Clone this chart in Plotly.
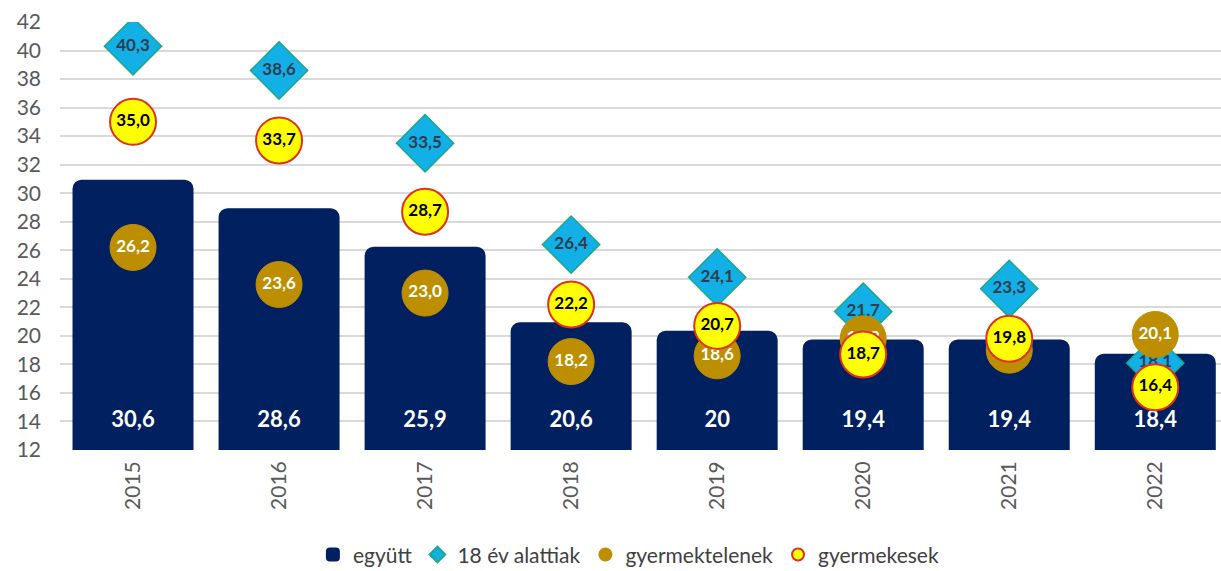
import plotly.graph_objects as go

years = ["2015", "2016", "2017", "2018", "2019", "2020", "2021", "2022"]
egyutt = [30.6, 28.6, 25.9, 20.6, 20.0, 19.4, 19.4, 18.4]
egyutt_labels = ["30,6", "28,6", "25,9", "20,6", "20", "19,4", "19,4", "18,4"]
ev18 = [40.3, 38.6, 33.5, 26.4, 24.1, 21.7, 23.3, 18.1]
gyermektelenek = [26.2, 23.6, 23.0, 18.2, 18.6, 19.8, 19.0, 20.1]
gyermekesek = [35.0, 33.7, 28.7, 22.2, 20.7, 18.7, 19.8, 16.4]

LABEL_Y = 14.0  # vertical position of bar value labels (style constant)


def fmt(v):
    return f"{v:.1f}".replace(".", ",")


FONT = "Lato, 'Open Sans', sans-serif"

fig = go.Figure()
fig.add_trace(go.Bar(
    x=years, y=egyutt, name="együtt",
    marker=dict(color="#002060", cornerradius=4,
                line=dict(color="#002060", width=10)),
    width=0.76, hoverinfo="x+y",
))
fig.add_trace(go.Scatter(
    x=years, y=[LABEL_Y] * len(years), mode="text", showlegend=False,
    text=egyutt_labels, textposition="middle center", hoverinfo="skip",
    textfont=dict(color="white", size=22, family=FONT, weight="bold"),
))
fig.add_trace(go.Scatter(
    x=years, y=ev18, name="18 év alattiak", mode="markers+text",
    marker=dict(symbol="diamond", size=44, color="#12B0E6",
                line=dict(color="#1AA88A", width=1.5)),
    text=[fmt(v) for v in ev18], textposition="middle center",
    textfont=dict(color="#2E3E50", size=17, family=FONT, weight="bold"),
))
fig.add_trace(go.Scatter(
    x=years, y=gyermektelenek, name="gyermektelenek", mode="markers+text",
    marker=dict(symbol="circle", size=46, color="#BD8F00",
                line=dict(color="#BD8F00", width=1)),
    text=[fmt(v) for v in gyermektelenek], textposition="middle center",
    textfont=dict(color="white", size=17, family=FONT, weight="bold"),
))
fig.add_trace(go.Scatter(
    x=years, y=gyermekesek, name="gyermekesek", mode="markers+text",
    marker=dict(symbol="circle", size=46, color="#FFFF00",
                line=dict(color="#E0301E", width=2)),
    text=[fmt(v) for v in gyermekesek], textposition="middle center",
    textfont=dict(color="black", size=17, family=FONT, weight="bold"),
))

fig.update_layout(
    width=1221, height=571,
    margin=dict(l=60, r=0, t=22, b=121, autoexpand=False),
    plot_bgcolor="white", paper_bgcolor="white",
    font=dict(family=FONT, color="#595959", size=20),
    showlegend=True,
    legend=dict(orientation="h", x=0.49, xanchor="center", y=-0.245, yanchor="middle",
                font=dict(size=21, color="#404040"), itemsizing="constant",
                traceorder="normal"),
    xaxis=dict(type="category", range=[-0.5, 7.45], tickangle=-90,
               showgrid=False, showline=False, ticks="", ticklabelstandoff=6,
               tickfont=dict(size=21, color="#595959")),
    yaxis=dict(range=[12, 42], dtick=2, tick0=12, showgrid=True,
               gridcolor="#D9D9D9", gridwidth=2, zeroline=False, showline=False,
               ticks="", ticklabelstandoff=18,
               tickfont=dict(size=21, color="#595959")),
)
fig.write_html("out.html")
